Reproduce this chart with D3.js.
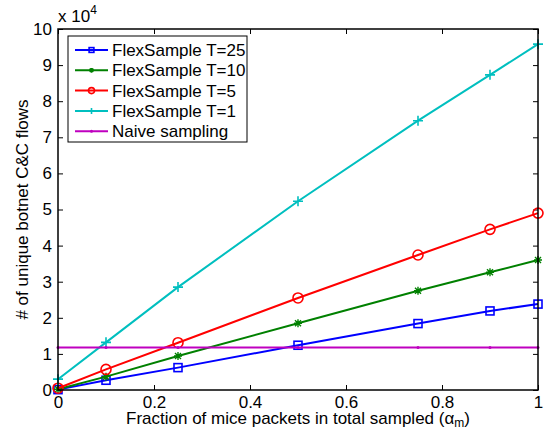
<!DOCTYPE html>
<html>
<head>
<meta charset="utf-8">
<script src="https://cdn.jsdelivr.net/npm/d3@7"></script>
<style>
  html, body { margin: 0; padding: 0; background: #fff; }
  svg { display: block; font-family: "Liberation Sans", Arial, Helvetica, sans-serif; }
</style>
</head>
<body>
<svg id="chart" width="545" height="431"></svg>
<script>
// Fraction of mice packets (x) and flow counts in units of 10^4 (y)
const fractions = [0, 0.1, 0.25, 0.5, 0.75, 0.9, 1.0];
const flexT25 = [0.01, 0.27, 0.62, 1.24, 1.84, 2.19, 2.38];
const flexT10 = [0.02, 0.37, 0.94, 1.85, 2.75, 3.26, 3.60];
const flexT5  = [0.05, 0.57, 1.31, 2.55, 3.74, 4.45, 4.90];
const flexT1  = [0.30, 1.32, 2.85, 5.23, 7.46, 8.73, 9.58];
const naive   = [1.18, 1.18, 1.18, 1.18, 1.18, 1.18, 1.18];

const seriesNames = ["FlexSample T=25", "FlexSample T=10", "FlexSample T=5", "FlexSample T=1", "Naive sampling"];
const seriesValues = [flexT25, flexT10, flexT5, flexT1, naive];
const seriesColors = ["#0000ff", "#008000", "#ff0000", "#00bfbf", "#bf00bf"];
const seriesMarkers = ["square", "asterisk", "circle", "plus", "dot"];

const xTicks = [0, 0.2, 0.4, 0.6, 0.8, 1];
const yTicks = [0, 1, 2, 3, 4, 5, 6, 7, 8, 9, 10];

const svg = d3.select("#chart");
const plotLeft = 58, plotRight = 538, plotTop = 29, plotBottom = 390;

const x = d3.scaleLinear().domain([0, 1]).range([plotLeft, plotRight]);
const y = d3.scaleLinear().domain([0, 10]).range([plotBottom, plotTop]);

const fontSize = 17;
const tickLen = 5;

// Axes with inward ticks on all four sides
const axisBottom = d3.axisBottom(x).tickValues(xTicks).tickSize(-tickLen).tickPadding(6)
  .tickFormat(d => d === 0 || d === 1 ? d3.format("d")(d) : d3.format(".1f")(d));
const axisTop = d3.axisTop(x).tickValues(xTicks).tickSize(-tickLen).tickFormat("");
const axisLeft = d3.axisLeft(y).tickValues(yTicks).tickSize(-tickLen).tickPadding(6).tickFormat(d3.format("d"));
const axisRight = d3.axisRight(y).tickValues(yTicks).tickSize(-tickLen).tickFormat("");

function styleAxis(g) {
  g.attr("font-family", null).attr("font-size", null);
  g.select(".domain").remove();
  g.selectAll(".tick line").attr("stroke", "#000").attr("stroke-width", 1);
  g.selectAll(".tick text").attr("fill", "#000").style("font-size", fontSize + "px");
}

svg.append("g").attr("transform", `translate(0,${plotBottom})`).call(axisBottom).call(styleAxis);
svg.append("g").attr("transform", `translate(0,${plotTop})`).call(axisTop).call(styleAxis);
svg.append("g").attr("transform", `translate(${plotLeft},0)`).call(axisLeft).call(styleAxis);
svg.append("g").attr("transform", `translate(${plotRight},0)`).call(axisRight).call(styleAxis);

// Data series
const line = d3.line().x(d => x(d[0])).y(d => y(d[1]));

function drawMarker(g, type, cx, cy, color, s) {
  if (type === "square") {
    const h = 4 * s;
    g.append("rect").attr("x", cx - h).attr("y", cy - h).attr("width", 2 * h).attr("height", 2 * h)
      .attr("fill", "none").attr("stroke", color).attr("stroke-width", 1.6);
  } else if (type === "circle") {
    g.append("circle").attr("cx", cx).attr("cy", cy).attr("r", 5 * s)
      .attr("fill", "none").attr("stroke", color).attr("stroke-width", 1.6);
  } else if (type === "plus") {
    const r = 5 * s;
    g.append("path").attr("d", `M${cx - r},${cy}H${cx + r}M${cx},${cy - r}V${cy + r}`)
      .attr("stroke", color).attr("stroke-width", 1.6);
  } else if (type === "asterisk") {
    const r = 4 * s, d = 3 * s;
    g.append("path")
      .attr("d", `M${cx - r},${cy}H${cx + r}M${cx},${cy - r}V${cy + r}M${cx - d},${cy - d}L${cx + d},${cy + d}M${cx - d},${cy + d}L${cx + d},${cy - d}`)
      .attr("stroke", color).attr("stroke-width", 1.4);
  } else if (type === "dot") {
    g.append("circle").attr("cx", cx).attr("cy", cy).attr("r", 1.5).attr("fill", color);
  }
}

const plot = svg.append("g");
seriesValues.forEach((vals, i) => {
  const pts = fractions.map((f, j) => [f, vals[j]]);
  const g = plot.append("g");
  g.append("path").attr("d", line(pts)).attr("fill", "none")
    .attr("stroke", seriesColors[i]).attr("stroke-width", 2);
  pts.forEach(p => drawMarker(g, seriesMarkers[i], x(p[0]), y(p[1]), seriesColors[i], 1));
});

// Plot box
svg.append("rect").attr("x", plotLeft).attr("y", plotTop)
  .attr("width", plotRight - plotLeft).attr("height", plotBottom - plotTop)
  .attr("fill", "none").attr("stroke", "#000").attr("stroke-width", 1.5);

// Exponent label
const expo = svg.append("text").attr("x", plotLeft).attr("y", 22).style("font-size", fontSize + "px").attr("fill", "#000");
expo.append("tspan").text("x 10");
expo.append("tspan").attr("dy", -8).style("font-size", "12px").text("4");

// Axis titles
svg.append("text").attr("x", (plotLeft + plotRight) / 2).attr("y", 424).attr("text-anchor", "middle")
  .style("font-size", fontSize + "px").attr("fill", "#000")
  .call(t => {
    t.append("tspan").text("Fraction of mice packets in total sampled (α");
    t.append("tspan").attr("dy", 3).style("font-size", "12px").text("m");
    t.append("tspan").attr("dy", -3).text(")");
  });

svg.append("text").attr("transform", `translate(28,${(plotTop + plotBottom) / 2}) rotate(-90)`)
  .attr("text-anchor", "middle").style("font-size", fontSize + "px").attr("fill", "#000")
  .text("# of unique botnet C&C flows");

// Legend
const legend = svg.append("g");
legend.append("rect").attr("x", 68).attr("y", 36).attr("width", 179).attr("height", 106)
  .attr("fill", "#fff").attr("stroke", "#000").attr("stroke-width", 1);
seriesNames.forEach((name, i) => {
  const ly = 50 + i * 20.3;
  legend.append("line").attr("x1", 75).attr("x2", 108).attr("y1", ly).attr("y2", ly)
    .attr("stroke", seriesColors[i]).attr("stroke-width", 2);
  drawMarker(legend, seriesMarkers[i], 91.5, ly, seriesColors[i], 0.6);
  legend.append("text").attr("x", 112).attr("y", ly).attr("dy", "0.35em")
    .style("font-size", fontSize + "px").attr("fill", "#000").text(name);
});
</script>
</body>
</html>
